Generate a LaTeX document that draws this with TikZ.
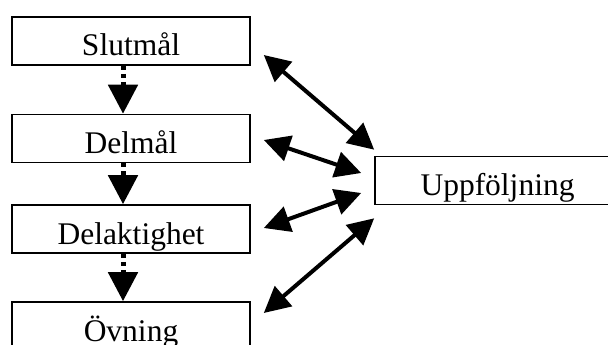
\documentclass[tikz,border=0pt]{standalone}
\usepackage{fontspec}
\setmainfont{Liberation Serif}
\usetikzlibrary{arrows.meta,calc}

\begin{document}
\begin{tikzpicture}[x=1pt,y=-1pt,
    box/.style={draw,line width=1.6pt,inner sep=0pt,minimum width=238pt,
      text height=39pt,text depth=9pt,font=\fontsize{31.5}{36}\selectfont},
    stepline/.style={line width=5pt,dash pattern=on 4pt off 4pt,
      -{Triangle[length=29pt,width=29pt]}},
    both/.style={line width=4pt,
      {Triangle[length=26pt,width=26pt]}-{Triangle[length=26pt,width=26pt]}}]
  \useasboundingbox (0,0) rectangle (608,345);
  \clip (0,0) rectangle (608,345);
  % steps on the left
  \node[box] (slut) at (131,41) {Slutmål};
  \node[box] (del) at (131,138.5) {Delmål};
  \node[box] (akt) at (131,229) {Delaktighet};
  \node[box] (ovn) at (131,326) {Övning};
  % follow-up box, runs off the right edge
  \node[box,minimum width=245pt] (upp) at (497.5,180.5) {Uppföljning};
  % dotted arrows between the steps
  \draw[stepline] ($(slut.south)+(-8,0)$) -- ($(del.north)+(-8,0)$);
  \draw[stepline] ($(del.south)+(-8,0)$) -- ($(akt.north)+(-8,0)$);
  \draw[stepline] ($(akt.south)+(-8,0)$) -- ($(ovn.north)+(-8,0)$);
  % two-way arrows to the follow-up
  \draw[both] ($(slut.east)+(13,14)$) -- ($(upp.north west)+(0,-6)$);
  \draw[both] ($(del.east)+(13,1.5)$) -- ($(upp.west)+(-13,-7.5)$);
  \draw[both] ($(akt.east)+(13,-1)$) -- ($(upp.west)+(-13,12.5)$);
  \draw[both] ($(ovn.east)+(13,-13)$) -- ($(upp.south west)+(0,13)$);
\end{tikzpicture}
\end{document}
